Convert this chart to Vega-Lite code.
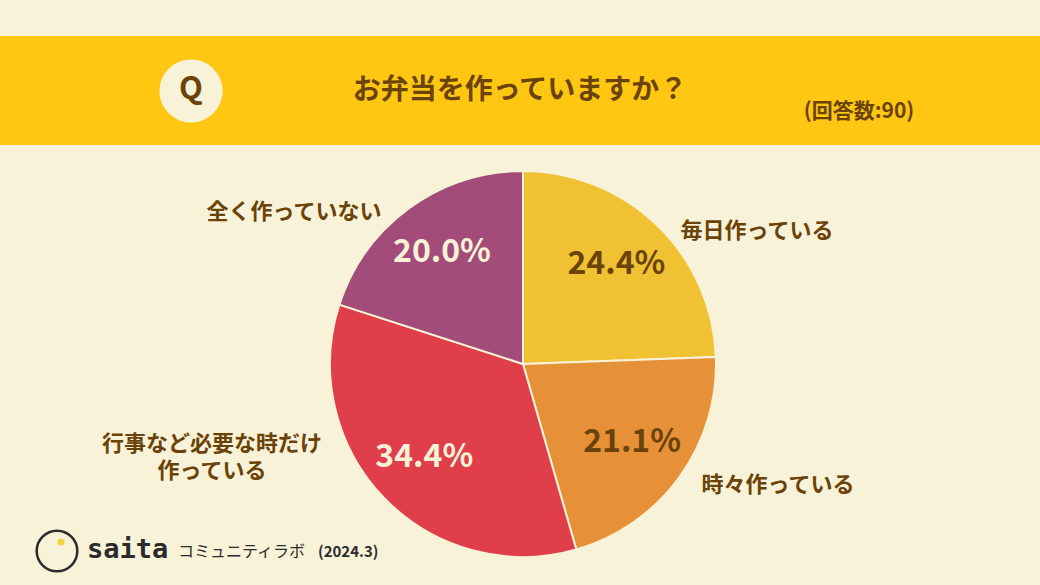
{
  "$schema": "https://vega.github.io/schema/vega-lite/v6.json",
  "width": 1040,
  "height": 585,
  "padding": 0,
  "autosize": {"type": "fit", "contains": "padding"},
  "background": "#F7F2D8",
  "config": {"view": {"stroke": null}, "font": "Noto Sans CJK JP"},
  "datasets": {
    "answers": [
      {"category": "毎日作っている", "share": 0.244, "ord": 1},
      {"category": "時々作っている", "share": 0.211, "ord": 2},
      {"category": "行事など必要な時だけ\n作っている", "share": 0.344, "ord": 3},
      {"category": "全く作っていない", "share": 0.2, "ord": 4}
    ],
    "one": [{}]
  },
  "layer": [
    {
      "data": {"name": "one"},
      "mark": {"type": "rect", "color": "#FFC712"},
      "encoding": {"x": {"value": 0}, "x2": {"value": 1040}, "y": {"value": 36}, "y2": {"value": 145}}
    },
    {
      "data": {"name": "one"},
      "mark": {"type": "circle", "size": 4000, "color": "#F7F2D8", "opacity": 1},
      "encoding": {"x": {"value": 191}, "y": {"value": 91}}
    },
    {
      "data": {"name": "one"},
      "mark": {"type": "text", "text": "Q", "font": "Noto Sans CJK JP", "fontWeight": "bold", "fontSize": 31, "color": "#6B4208", "align": "center", "baseline": "middle"},
      "encoding": {"x": {"value": 191}, "y": {"value": 90}}
    },
    {
      "data": {"name": "one"},
      "mark": {"type": "text", "text": "お弁当を作っていますか？", "font": "Noto Sans CJK JP", "fontWeight": "bold", "fontSize": 28, "color": "#6B4208", "align": "center", "baseline": "middle"},
      "encoding": {"x": {"value": 520}, "y": {"value": 91}}
    },
    {
      "data": {"name": "one"},
      "mark": {"type": "text", "text": "(回答数:90)", "font": "Noto Sans CJK JP", "fontWeight": "bold", "fontSize": 21, "color": "#6B4208", "align": "center", "baseline": "middle"},
      "encoding": {"x": {"value": 859}, "y": {"value": 112}}
    },
    {
      "data": {"name": "answers"},
      "mark": {"type": "arc", "outerRadius": 193, "stroke": "#F7F2D8", "strokeWidth": 2, "x": 523, "y": 364},
      "encoding": {
        "theta": {"field": "share", "type": "quantitative", "stack": true},
        "order": {"field": "ord", "type": "quantitative"},
        "color": {"field": "category", "type": "nominal", "legend": null,
          "scale": {"domain": ["毎日作っている", "時々作っている", "行事など必要な時だけ\n作っている", "全く作っていない"],
                    "range": ["#F0C233", "#E69138", "#E03E4B", "#A34C79"]}}
      }
    },
    {
      "data": {"name": "answers"},
      "mark": {"type": "text", "radius": 136, "font": "Noto Sans CJK JP", "fontWeight": "bold", "fontSize": 32, "x": 522, "y": 362, "align": "center", "baseline": "middle"},
      "encoding": {
        "theta": {"field": "share", "type": "quantitative", "stack": true},
        "order": {"field": "ord", "type": "quantitative"},
        "text": {"field": "share", "type": "quantitative", "format": ".1%"},
        "color": {
          "condition": {"test": "datum.ord <= 2", "value": "#6B4208"},
          "value": "#F7F2D8"
        }
      }
    },
    {
      "data": {"name": "answers"},
      "transform": [{"filter": "datum.ord == 1"}],
      "mark": {"type": "text", "font": "Noto Sans CJK JP", "fontWeight": "bold", "fontSize": 22, "color": "#6B4208", "align": "center", "baseline": "middle", "lineBreak": "\n"},
      "encoding": {"text": {"field": "category"}, "x": {"value": 757}, "y": {"value": 231}}
    },
    {
      "data": {"name": "answers"},
      "transform": [{"filter": "datum.ord == 2"}],
      "mark": {"type": "text", "font": "Noto Sans CJK JP", "fontWeight": "bold", "fontSize": 22, "color": "#6B4208", "align": "center", "baseline": "middle", "lineBreak": "\n"},
      "encoding": {"text": {"field": "category"}, "x": {"value": 778}, "y": {"value": 485}}
    },
    {
      "data": {"name": "answers"},
      "transform": [{"filter": "datum.ord == 3"}],
      "mark": {"type": "text", "font": "Noto Sans CJK JP", "fontWeight": "bold", "fontSize": 22, "color": "#6B4208", "align": "center", "baseline": "middle", "lineBreak": "\n", "lineHeight": 27},
      "encoding": {"text": {"field": "category"}, "x": {"value": 212}, "y": {"value": 444}}
    },
    {
      "data": {"name": "answers"},
      "transform": [{"filter": "datum.ord == 4"}],
      "mark": {"type": "text", "font": "Noto Sans CJK JP", "fontWeight": "bold", "fontSize": 22, "color": "#6B4208", "align": "center", "baseline": "middle", "lineBreak": "\n"},
      "encoding": {"text": {"field": "category"}, "x": {"value": 294}, "y": {"value": 212}}
    },
    {
      "data": {"name": "one"},
      "mark": {"type": "circle", "size": 1650, "filled": false, "stroke": "#2B2B2B", "strokeWidth": 2.5, "opacity": 1},
      "encoding": {"x": {"value": 57}, "y": {"value": 551}}
    },
    {
      "data": {"name": "one"},
      "mark": {"type": "circle", "size": 50, "color": "#F2D43A", "opacity": 1},
      "encoding": {"x": {"value": 61}, "y": {"value": 542}}
    },
    {
      "data": {"name": "one"},
      "mark": {"type": "text", "text": "saita", "font": "DejaVu Sans Mono", "fontWeight": "bold", "fontSize": 27, "color": "#2B2B2B", "align": "left", "baseline": "middle"},
      "encoding": {"x": {"value": 87}, "y": {"value": 550}}
    },
    {
      "data": {"name": "one"},
      "mark": {"type": "text", "text": "コミュニティラボ", "font": "Noto Sans CJK JP", "fontSize": 16, "color": "#2B2B2B", "align": "left", "baseline": "middle"},
      "encoding": {"x": {"value": 178}, "y": {"value": 552}}
    },
    {
      "data": {"name": "one"},
      "mark": {"type": "text", "text": "(2024.3)", "font": "Noto Sans CJK JP", "fontWeight": "bold", "fontSize": 15, "color": "#2B2B2B", "align": "left", "baseline": "middle"},
      "encoding": {"x": {"value": 318}, "y": {"value": 552}}
    }
  ],
  "resolve": {"scale": {"color": "independent"}}
}
